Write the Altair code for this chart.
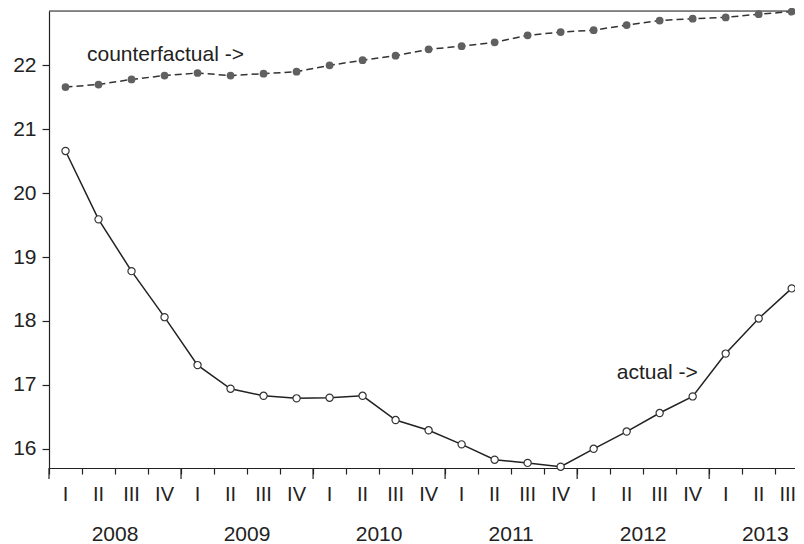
import altair as alt
import pandas as pd

# ---------------- data ----------------
quarter_names = ["I", "II", "III", "IV"] * 5 + ["I", "II", "III"]
# label positions in quarter units (centre of each quarter; last one nudged in)
quarter_label_pos = [i + 0.5 for i in range(22)] + [22.38]
years = ["2008", "2009", "2010", "2011", "2012", "2013"]
year_label_pos = [2, 6, 10, 14, 18, 21.7]
year_bounds = [0, 4, 8, 12, 16, 20]
actual = [20.66, 19.59, 18.78, 18.06, 17.31, 16.94, 16.83, 16.79, 16.80, 16.83,
          16.45, 16.29, 16.07, 15.83, 15.78, 15.72, 16.00, 16.27, 16.56, 16.82,
          17.49, 18.04, 18.51]
counterfactual = [21.66, 21.70, 21.78, 21.84, 21.88, 21.84, 21.87, 21.90, 22.00,
                  22.08, 22.15, 22.25, 22.30, 22.36, 22.47, 22.52, 22.55, 22.63,
                  22.70, 22.73, 22.75, 22.80, 22.84]
y_ticks = [16, 17, 18, 19, 20, 21, 22]
annotations = ["counterfactual ->", "actual ->"]
annot_x = [1.15, 17.2]
annot_y = [22.06, 17.10]

W, H = 746, 457
FONT = "Liberation Sans"
TXT = "#222222"

xs = alt.Scale(domain=[0, 22.6], nice=False, zero=False)
ys = alt.Scale(domain=[15.7, 22.85], nice=False, zero=False)

x_axis = alt.Axis(values=list(range(23)), tickSize=6, labels=False, title=None,
                  grid=False, domainColor=TXT, tickColor=TXT, domainWidth=1.2,
                  tickWidth=1.2)
y_axis = alt.Axis(values=y_ticks, tickSize=7, labelPadding=6, labelFontSize=21,
                  labelFont=FONT, labelColor=TXT, title=None, grid=False,
                  domainColor=TXT, tickColor=TXT, domainWidth=1.2, tickWidth=1.2)

df = pd.DataFrame({
    "q": [i + 0.5 for i in range(len(actual))],
    "actual": actual,
    "cf": counterfactual,
})
qdf = pd.DataFrame({"pos": quarter_label_pos, "qlab": quarter_names})
ydf = pd.DataFrame({"b": year_bounds})
ylab = pd.DataFrame({"pos": year_label_pos, "year": years})
ann = pd.DataFrame({"x": annot_x, "y": annot_y, "t": annotations})

X = alt.X("q:Q", scale=xs, axis=x_axis)
base = alt.Chart(df)

actual_line = base.mark_line(color=TXT, strokeWidth=1.5).encode(
    x=X, y=alt.Y("actual:Q", scale=ys, axis=y_axis))
actual_pts = base.mark_point(shape="circle", filled=True, fill="white", stroke="#333333",
                             strokeWidth=1.2, size=52, opacity=1).encode(
    x=X, y=alt.Y("actual:Q", scale=ys, axis=y_axis))
cf_line = base.mark_line(color="#333333", strokeWidth=1.5, strokeDash=[7, 4]).encode(
    x=X, y=alt.Y("cf:Q", scale=ys, axis=y_axis))
cf_pts = base.mark_point(shape="circle", filled=True, color="#606060", size=60,
                         opacity=1).encode(
    x=X, y=alt.Y("cf:Q", scale=ys, axis=y_axis))

qlabels = alt.Chart(qdf).mark_text(font=FONT, fontSize=20, color=TXT, baseline="middle",
                                   align="center").encode(
    x=alt.X("pos:Q", scale=xs, axis=x_axis), y=alt.value(H + 27), text="qlab:N")
ylabels = alt.Chart(ylab).mark_text(font=FONT, fontSize=21, color=TXT,
                                    baseline="middle", align="center").encode(
    x=alt.X("pos:Q", scale=xs, axis=x_axis), y=alt.value(H + 67), text="year:N")
yticks = alt.Chart(ydf).mark_rule(color=TXT, strokeWidth=1.2).encode(
    x=alt.X("b:Q", scale=xs, axis=x_axis), y=alt.value(H), y2=alt.value(H + 11))
top_border = alt.Chart(pd.DataFrame({"a": [0]})).mark_rule(color=TXT, strokeWidth=1.2).encode(
    x=alt.value(0), x2=alt.value(W), y=alt.value(0))
annot = alt.Chart(ann).mark_text(font=FONT, fontSize=21, color=TXT, align="left",
                                 baseline="alphabetic").encode(
    x=alt.X("x:Q", scale=xs, axis=x_axis), y=alt.Y("y:Q", scale=ys, axis=y_axis),
    text="t:N")

chart = alt.layer(
    top_border, cf_line, cf_pts, actual_line, actual_pts, annot, qlabels, ylabels, yticks
).properties(
    width=W, height=H,
    autosize=alt.AutoSizeParams(type="none"),
    padding={"left": 41, "top": 3, "right": 0, "bottom": 76},
).configure_view(stroke=None).configure(background="white")

chart.save("out.html", embed_options={"renderer": "svg", "actions": False})
